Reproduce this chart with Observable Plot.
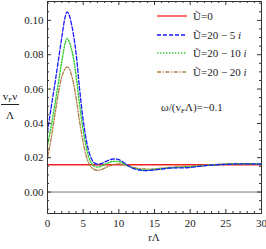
<!DOCTYPE html>
<html>
<head>
<meta charset="utf-8">
<script src="https://cdn.jsdelivr.net/npm/d3@7"></script>
<script src="https://cdn.jsdelivr.net/npm/@observablehq/plot@0.6"></script>
<style>
  html, body { margin: 0; padding: 0; background: #fff; overflow: hidden; }
  #wrap { position: relative; width: 266px; height: 249px; overflow: hidden; font-family: "Liberation Serif", "Times New Roman", serif; color: #222; }
  #wrap svg { position: absolute; left: 0; top: 0; }
  .ov { position: absolute; white-space: nowrap; font-size: 11px; line-height: 1; }
  .ov sub { font-size: 7px; vertical-align: -2px; }
</style>
</head>
<body>
<div id="wrap"></div>
<script>
// radius grid rΛ
const r = [0,0.5,1,1.5,2,2.5,2.75,3,3.5,4,4.5,5,5.5,6,6.5,7,7.5,8,8.5,9,9.5,10,10.5,11,11.5,
           12,13,14,15,16,17,18,19,20,21,22,23,24,25,26,27,28,29,30];
// Ũ=0 (constant)
const rZero = [0, 30];
const vZero = [0.0159, 0.0159];
// Ũ=20 − 5 i
const v5 = [0.035,0.049,0.062,0.076,0.090,0.1025,0.105,0.1035,0.095,0.081,0.060,0.042,0.029,0.021,0.0172,0.0162,0.0165,0.0174,0.0184,0.0191,0.0193,0.0189,0.0178,0.0163,0.0149,
            0.0138,0.0127,0.0125,0.0129,0.0134,0.0139,0.0141,0.0141,0.0143,0.0148,0.0153,0.0157,0.0159,0.0161,0.0163,0.0164,0.0164,0.0164,0.0163];
// Ũ=20 − 10 i
const v10 = [0.027,0.038,0.050,0.063,0.076,0.0870,0.0893,0.088,0.081,0.068,0.051,0.036,0.025,0.018,0.0152,0.0146,0.0150,0.0160,0.0170,0.0177,0.0179,0.0177,0.0170,0.0158,0.0148,
             0.0140,0.0130,0.0128,0.0131,0.0136,0.0140,0.0143,0.0145,0.0147,0.0150,0.0154,0.0157,0.0160,0.0162,0.0164,0.0165,0.0165,0.0164,0.0163];
// Ũ=20 − 20 i
const v20 = [0.0195,0.031,0.044,0.057,0.067,0.0720,0.0729,0.0722,0.066,0.055,0.041,0.029,0.020,0.0152,0.0132,0.0127,0.0130,0.0139,0.0149,0.0157,0.0162,0.0164,0.0162,0.0156,0.0150,
             0.0144,0.0136,0.0134,0.0135,0.0139,0.0143,0.0146,0.0148,0.0150,0.0153,0.0156,0.0159,0.0162,0.0164,0.0166,0.0166,0.0166,0.0165,0.0164];

const seriesNames = ["Ũ=0", "Ũ=20 − 5 i", "Ũ=20 − 10 i", "Ũ=20 − 20 i"];
const seriesColors = ["#f22020", "#1a1aff", "#33cc33", "#b0804a"];
const seriesDash = [null, "4,2", "1.4,1.6", "4,1.6,1.2,1.6"];

const xMajor = [0,5,10,15,20,25,30];
const xMinor = d3.range(0, 31, 1).filter(d => d % 5 !== 0);
const yMajor = [0, 0.02, 0.04, 0.06, 0.08, 0.10];
const yMinor = d3.range(-0.01, 0.1101, 0.005).map(d => +d.toFixed(3)).filter(d => Math.abs(Math.round(d / 0.02) * 0.02 - d) > 1e-6);

const zeroData = rZero.map((x, i) => ({x, y: vZero[i]}));
const mk = vals => r.map((x, i) => ({x, y: vals[i]}));

const W = 266, H = 249, mL = 47, mR = 5, mT = 1, mB = 36;
const iw = W - mL - mR, ih = H - mT - mB;
const tickCol = "#333";

const chart = Plot.plot({
  width: W, height: H,
  marginLeft: mL, marginRight: mR, marginTop: mT, marginBottom: mB,
  x: {domain: [0, 30], label: null},
  y: {domain: [-0.0125, 0.111], label: null},
  style: {fontFamily: "'Liberation Serif', 'Times New Roman', serif", fontSize: "11px", background: "transparent", color: "#222"},
  marks: [
    Plot.ruleY([0], {stroke: "#555", strokeWidth: 0.8}),
    Plot.line(zeroData, {x: "x", y: "y", stroke: seriesColors[0], strokeWidth: 1.3}),
    Plot.line(mk(v20), {x: "x", y: "y", stroke: seriesColors[3], strokeWidth: 1.3, strokeDasharray: seriesDash[3], curve: "catmull-rom"}),
    Plot.line(mk(v10), {x: "x", y: "y", stroke: seriesColors[2], strokeWidth: 1.4, strokeDasharray: seriesDash[2], curve: "catmull-rom"}),
    Plot.line(mk(v5), {x: "x", y: "y", stroke: seriesColors[1], strokeWidth: 1.3, strokeDasharray: seriesDash[1], curve: "catmull-rom"}),
    Plot.frame({stroke: tickCol, strokeWidth: 1}),
    // inward ticks, bottom and top
    Plot.tickX(xMajor, {x: d => d, insetTop: ih - 4, stroke: tickCol}),
    Plot.tickX(xMajor, {x: d => d, insetBottom: ih - 4, stroke: tickCol}),
    Plot.tickX(xMinor, {x: d => d, insetTop: ih - 2, stroke: tickCol}),
    Plot.tickX(xMinor, {x: d => d, insetBottom: ih - 2, stroke: tickCol}),
    // inward ticks, left and right
    Plot.tickY(yMajor, {y: d => d, insetRight: iw - 4, stroke: tickCol}),
    Plot.tickY(yMajor, {y: d => d, insetLeft: iw - 4, stroke: tickCol}),
    Plot.tickY(yMinor, {y: d => d, insetRight: iw - 2, stroke: tickCol}),
    Plot.tickY(yMinor, {y: d => d, insetLeft: iw - 2, stroke: tickCol}),
    Plot.axisX(xMajor, {tickSize: 0, tickPadding: 6, label: null, tickFormat: d => String(d), fontSize: 11}),
    Plot.axisY(yMajor, {tickSize: 0, tickPadding: 4, label: null, tickFormat: d3.format(".2f"), fontSize: 11})
  ]
});

const wrap = document.getElementById("wrap");
wrap.appendChild(chart);

function ov(html, left, top, extra) {
  const d = document.createElement("div");
  d.className = "ov";
  d.innerHTML = html;
  d.style.left = left + "px";
  d.style.top = top + "px";
  if (extra) Object.assign(d.style, extra);
  wrap.appendChild(d);
  return d;
}

// x-axis label
ov("rΛ", 154, 237, {transform: "translate(-50%,-50%)"});
// y-axis label as a fraction
ov("v<sub>F</sub>ν", 10, 97, {transform: "translate(-50%,-50%)"});
ov("", 1, 104, {width: "18px", height: "0", borderTop: "1px solid #222"});
ov("Λ", 10, 115, {transform: "translate(-50%,-50%)"});

// legend
const rowsY = [16, 34.5, 53, 72];
seriesNames.forEach((name, i) => {
  const dash = seriesDash[i] ? `stroke-dasharray="${seriesDash[i]}"` : "";
  ov(`<svg width="30" height="4" style="display:block"><line x1="0" x2="30" y1="2" y2="2" stroke="${seriesColors[i]}" stroke-width="1.3" ${dash}/></svg>`,
     157, rowsY[i] - 2);
  const label = name.replace(/ i$/, " <i>i</i>");
  ov(label, 193, rowsY[i], {transform: "translateY(-50%)"});
});

// annotation
ov("<i>ω</i>/(v<sub>F</sub>Λ)=−0.1", 161, 108, {transform: "translateY(-50%)"});
</script>
</body>
</html>
